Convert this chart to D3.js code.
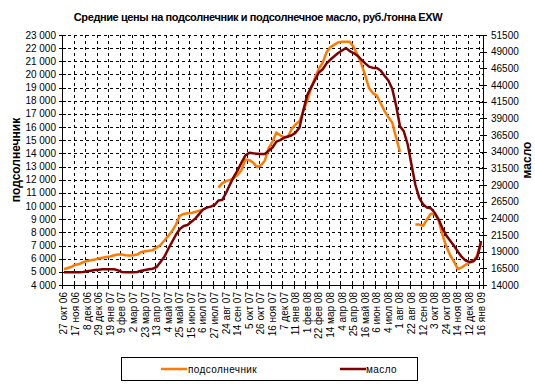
<!DOCTYPE html>
<html><head><meta charset="utf-8">
<script src="https://cdn.jsdelivr.net/npm/d3@7/dist/d3.min.js"></script>
<style>body{margin:0;background:#fff}svg{display:block}text{font-family:"Liberation Sans",Arial,sans-serif}</style>
</head><body><svg id="c" width="535" height="384"></svg>
<script>
const tickLabels = ["27 окт 06","17 ноя 06","8 дек 06","29 дек 06","19 янв 07","9 фев 07","2 мар 07","23 мар 07","13 апр 07","4 май 07","25 май 07","15 июн 07","6 июл 07","27 июл 07","24 авг 07","14 сен 07","5 окт 07","26 окт 07","16 ноя 07","7 дек 07","11 янв 08","1 фев 08","22 фев 08","14 мар 08","4 апр 08","25 апр 08","16 май 08","6 июн 08","4 июл 08","1 авг 08","22 авг 08","12 сен 08","3 окт 08","24 окт 08","14 ноя 08","12 дек 08","16 янв 09"];
// подсолнечник (left axis), weekly, null = no data
const seeds = [5200,5290,5390,5540,5590,5730,5830,5880,5930,6020,6070,6120,6170,6260,6310,6310,6260,6250,6260,6310,6510,6570,6600,6650,6850,7040,7380,7720,8100,8590,9260,9400,9450,9470,9560,9640,9710,null,null,null,11400,11740,11890,11990,12130,12380,12760,13540,13490,13300,12960,13100,13440,14410,14900,15580,15380,15240,15270,15870,16210,16450,17230,18000,18970,19750,20430,20910,21690,22080,22270,22440,22480,22490,22480,22080,21490,20810,19940,18970,18580,18390,17810,17230,16740,16350,15190,14120,null,null,null,8590,8590,8500,8980,9420,9370,8930,7820,6940,6260,5780,5200,5340,5540,5680,5830,6260,7140];
// масло (right axis)
const oil = [15900,15900,15900,15900,15900,15950,16050,16150,16250,16300,16350,16370,16370,16370,16200,15950,15900,15900,15900,15950,16150,16260,16350,16450,16700,17450,18230,19400,20470,21540,22410,22850,22990,23480,23960,24640,25320,25610,25760,26000,26670,26770,27840,29100,30260,31230,32400,33460,33850,33750,33700,33660,33660,34140,34630,35500,35740,36080,36280,36470,36860,37630,40250,42490,43650,44720,45880,46370,47240,47820,48300,48790,49180,49560,49080,48790,48400,47820,47240,46750,46560,46560,46170,45390,44670,43450,40930,37830,37050,35110,32010,29000,27060,26090,25610,25510,24830,23860,22500,21430,20650,19870,19000,18210,17650,17460,17550,18130,20600];
const leftTicks = d3.range(4000, 23001, 1000);
const rightTicks = d3.range(14000, 51501, 2500);
const title = "Средние цены на подсолнечник и подсолнечное масло, руб./тонна EXW";
const names = ["подсолнечник","масло"];
const colors = ["#FF7A00","#800000"];

const L=62,R=483,T=35,B=285;
const n = seeds.length;
const svg = d3.select("#c");
const xb = d3.scaleLinear().domain([0,n]).range([L,R]);
const yl = d3.scaleLinear().domain([4000,23000]).range([B,T]);
const yr = d3.scaleLinear().domain([14000,51500]).range([B,T]);
const fmtL = v => d3.format(",")(v).replace(/,/g," ");

// gridlines
const g = svg.append("g").attr("stroke","#000").attr("stroke-width",1).attr("stroke-dasharray","3,3").attr("shape-rendering","crispEdges");
leftTicks.forEach(v=>{ g.append("line").attr("x1",L).attr("x2",R).attr("y1",Math.round(yl(v))+0.5).attr("y2",Math.round(yl(v))+0.5); });
tickLabels.forEach((t,k)=>{ if(k===0) return; const x=Math.round(xb(3*k))+0.5; g.append("line").attr("x1",x).attr("x2",x).attr("y1",T).attr("y2",B); });

// axes
const a = svg.append("g").attr("stroke","#000").attr("stroke-width",1).attr("shape-rendering","crispEdges");
a.append("line").attr("x1",L+0.5).attr("x2",L+0.5).attr("y1",T).attr("y2",B);
a.append("line").attr("x1",R+0.5).attr("x2",R+0.5).attr("y1",T).attr("y2",B);
a.append("line").attr("x1",L).attr("x2",R+1).attr("y1",B+0.5).attr("y2",B+0.5);
leftTicks.forEach(v=>{ const y=Math.round(yl(v))+0.5; a.append("line").attr("x1",L-3).attr("x2",L+4).attr("y1",y).attr("y2",y); });
rightTicks.forEach(v=>{ const y=Math.round(yr(v))+0.5; a.append("line").attr("x1",R-3).attr("x2",R+4).attr("y1",y).attr("y2",y); });
d3.range(0,n+1,3).concat([n]).forEach(i=>{ const x=Math.round(xb(i))+0.5; a.append("line").attr("x1",x).attr("x2",x).attr("y1",B-3).attr("y2",B+4); });

// tick labels
svg.append("g").selectAll("text").data(leftTicks).join("text")
  .attr("x",L-6).attr("y",d=>yl(d)+3.5).attr("text-anchor","end").attr("font-size",10).text(fmtL);
svg.append("g").selectAll("text").data(rightTicks).join("text")
  .attr("x",R+8).attr("y",d=>yr(d)+3.5).attr("text-anchor","start").attr("font-size",10).text(d=>d);
svg.append("g").selectAll("text").data(tickLabels).join("text")
  .attr("transform",(d,k)=>`translate(${xb(3*k+0.5)+3.5},${B+7}) rotate(-90)`)
  .attr("text-anchor","end").attr("font-size",10).text(d=>d);

// titles
svg.append("text").attr("x",258).attr("y",21).attr("text-anchor","middle").attr("font-size",11).attr("font-weight","bold").attr("letter-spacing",-0.4).text(title);
svg.append("text").attr("transform",`translate(20,${(T+B)/2}) rotate(-90)`).attr("text-anchor","middle").attr("font-size",12).attr("font-weight","bold").text(names[0]);
svg.append("text").attr("transform",`translate(531,${(T+B)/2}) rotate(-90)`).attr("text-anchor","middle").attr("font-size",12).attr("font-weight","bold").text(names[1]);

// lines
const cx = i => xb(i+0.5);
const l1 = d3.line().defined(d=>d!=null).x((d,i)=>cx(i)).y(d=>yl(d));
const l2 = d3.line().defined(d=>d!=null).x((d,i)=>cx(i)).y(d=>yr(d));
svg.append("path").attr("d",l1(seeds)).attr("fill","none").attr("stroke",colors[0]).attr("stroke-width",2.5).attr("stroke-linejoin","round");
svg.append("path").attr("d",l2(oil)).attr("fill","none").attr("stroke",colors[1]).attr("stroke-width",2.5).attr("stroke-linejoin","round");

// legend
const lg = svg.append("g");
lg.append("rect").attr("x",121.5).attr("y",357.5).attr("width",296).attr("height",23).attr("fill","#fff").attr("stroke","#000").attr("shape-rendering","crispEdges");
[[161,188],[340,366]].forEach(([x0,tx],k)=>{
  lg.append("line").attr("x1",x0).attr("x2",x0+26).attr("y1",369).attr("y2",369).attr("stroke",colors[k]).attr("stroke-width",2.5);
  lg.append("text").attr("x",tx).attr("y",373).attr("font-size",10).attr("letter-spacing",0.4).text(names[k]);
});
</script></body></html>
